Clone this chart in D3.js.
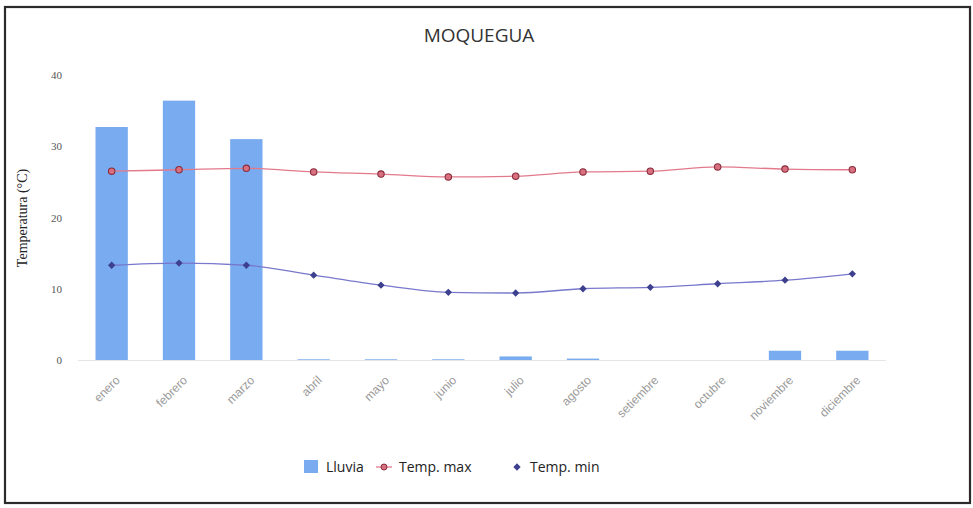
<!DOCTYPE html>
<html><head><meta charset="utf-8">
<script src="https://cdn.jsdelivr.net/npm/d3@7"></script>
<style>body{margin:0;background:#fff;} svg{display:block;}</style>
</head><body>
<svg id="c" width="973" height="508"></svg>
<script>
const months = ["enero","febrero","marzo","abril","mayo","junio","julio","agosto","setiembre","octubre","noviembre","diciembre"];
const lluvia = [32.7,36.4,31.0,0.1,0.1,0.1,0.5,0.2,0,0,1.3,1.3];
const tempMax = [26.5,26.7,26.9,26.4,26.1,25.7,25.8,26.4,26.5,27.1,26.8,26.7];
const tempMin = [13.3,13.6,13.3,11.9,10.5,9.5,9.4,10.0,10.2,10.7,11.2,12.1];
const yTicks = [0,10,20,30,40];

const svg = d3.select("#c");
svg.append("rect").attr("x",5).attr("y",7).attr("width",965).attr("height",496)
  .attr("fill","#fff").attr("stroke","#2b2b2b").attr("stroke-width",2.2);

const x = d3.scaleBand().domain(months).range([78,886]).paddingInner(0.52).paddingOuter(0.26);
const y = d3.scaleLinear().domain([0,40]).range([360,75]);

svg.append("text").attr("x",479).attr("y",42).attr("text-anchor","middle")
  .attr("font-family","Open Sans, sans-serif").attr("font-size",19).attr("fill","#333").text("MOQUEGUA");

// baseline
svg.append("line").attr("x1",78).attr("x2",886).attr("y1",y(0)+0.5).attr("y2",y(0)+0.5).attr("stroke","#e6e6e6");

// y axis
const ya = svg.append("g").attr("transform","translate(62,0)")
  .call(d3.axisLeft(y).tickValues(yTicks).tickSize(0).tickPadding(0));
ya.select(".domain").remove();
ya.selectAll("text").attr("font-family","Liberation Serif, serif").attr("font-size",11).attr("fill","#555");
svg.append("text").attr("transform","translate(27,218) rotate(-90)").attr("text-anchor","middle")
  .attr("font-family","Liberation Serif, serif").attr("font-size",14).attr("fill","#222").text("Temperatura (°C)");

// bars
svg.append("g").selectAll("rect").data(lluvia).join("rect")
  .attr("x",(d,i)=>x(months[i])).attr("width",x.bandwidth())
  .attr("y",d=>y(d)).attr("height",d=>y(0)-y(d)).attr("fill","#78abef");

// x axis
const xa = svg.append("g").attr("transform","translate(0,372)")
  .call(d3.axisBottom(x).tickSize(0).tickPadding(0));
xa.select(".domain").remove();
xa.selectAll("text").attr("font-family","Liberation Sans, sans-serif").attr("font-size",12).attr("fill","#999")
  .attr("text-anchor","end").attr("dy","0.35em").attr("transform","translate(6,6) rotate(-45)");

const cx = i => x(months[i]) + x.bandwidth()/2;
const line = d3.line().x((d,i)=>cx(i)).y(d=>y(d)).curve(d3.curveMonotoneX);

svg.append("path").datum(tempMax).attr("d",line).attr("fill","none").attr("stroke","#e27a8c").attr("stroke-width",1.3);
svg.append("path").datum(tempMin).attr("d",line).attr("fill","none").attr("stroke","#7878cc").attr("stroke-width",1.3);

svg.append("g").selectAll("circle").data(tempMax).join("circle")
  .attr("cx",(d,i)=>cx(i)).attr("cy",d=>y(d)).attr("r",3.2)
  .attr("fill","#d9707f").attr("stroke","#8a2c3c").attr("stroke-width",1.1);

const diamond = d3.symbol().type(d3.symbolDiamond2).size(34);
svg.append("g").selectAll("path").data(tempMin).join("path")
  .attr("transform",(d,i)=>`translate(${cx(i)},${y(d)})`).attr("d",diamond).attr("fill","#3d3f8f");

// legend
const lg = svg.append("g").attr("font-family","Open Sans, sans-serif").attr("font-size",14).attr("fill","#222");
lg.append("rect").attr("x",304).attr("y",460).attr("width",14).attr("height",13).attr("fill","#7aaaf0");
lg.append("text").attr("x",326).attr("y",472).text("Lluvia");
lg.append("line").attr("x1",376).attr("x2",392).attr("y1",467).attr("y2",467).attr("stroke","#e27a8c").attr("stroke-width",1.3);
lg.append("circle").attr("cx",384).attr("cy",467).attr("r",3).attr("fill","#d9707f").attr("stroke","#8a2c3c");
lg.append("text").attr("x",399).attr("y",472).text("Temp. max");
lg.append("path").attr("transform","translate(517,467)").attr("d",diamond).attr("fill","#3d3f8f");
lg.append("text").attr("x",530).attr("y",472).text("Temp. min");
</script>
</body></html>
